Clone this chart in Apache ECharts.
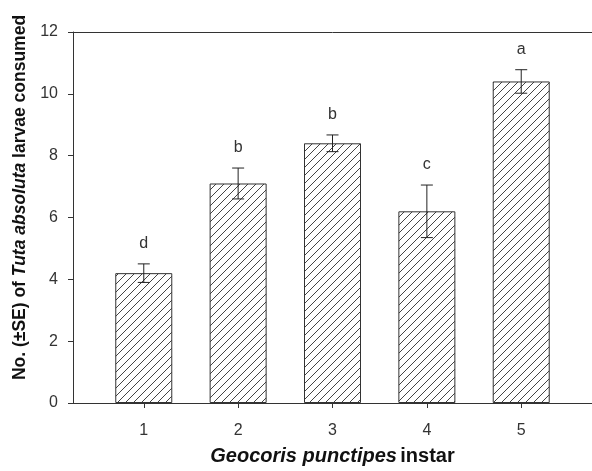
<!DOCTYPE html>
<html>
<head>
<meta charset="utf-8">
<script src="https://cdn.jsdelivr.net/npm/echarts@6/dist/echarts.min.js"></script>
<style>
  html, body { margin: 0; padding: 0; background: #fff; }
  #chart { width: 592px; height: 471px; }
</style>
</head>
<body>
<div id="chart"></div>
<script>
const instars = [1, 2, 3, 4, 5];
const consumed = [4.2, 7.1, 8.4, 6.2, 10.4];
const stdErr = [0.3, 0.5, 0.27, 0.85, 0.38];
const letters = ['d', 'b', 'b', 'c', 'a'];
const yTicks = [0, 2, 4, 6, 8, 10, 12];

// diagonal hatch tile
const makeHatch = () => {
    const c = document.createElement('canvas');
    const s = 8;
    c.width = s;
    c.height = s;
    const ctx = c.getContext('2d');
    ctx.fillStyle = '#fff';
    ctx.fillRect(0, 0, s, s);
    ctx.strokeStyle = '#444';
    ctx.lineWidth = 1;
    ctx.beginPath();
    ctx.moveTo(-1, s + 1); ctx.lineTo(s + 1, -1);
    ctx.moveTo(-1, 1); ctx.lineTo(1, -1);
    ctx.moveTo(s - 1, s + 1); ctx.lineTo(s + 1, s - 1);
    ctx.stroke();
    return c;
};

const chart = echarts.init(document.getElementById('chart'));
const axisColor = '#333';
const font = 'Liberation Sans, Arial, sans-serif';

const option = {
    backgroundColor: '#fff',
    animation: false,
    grid: { left: 73, right: 0, top: 32, bottom: 67 },
    xAxis: [
        {
            type: 'value',
            min: 0.25,
            max: 5.75,
            splitLine: { show: false },
            axisLine: { lineStyle: { color: axisColor, width: 1 } },
            axisTick: { show: true, length: 5, customValues: instars, lineStyle: { color: axisColor } },
            axisLabel: { customValues: instars, color: '#333', fontSize: 16, fontFamily: font, margin: 20 },
            name: '{i|Geocoris punctipes} {b|instar}',
            nameLocation: 'middle',
            nameGap: 43,
            nameTextStyle: {
                rich: {
                    i: { fontSize: 20, fontWeight: 'bold', fontStyle: 'italic', fontFamily: font, color: '#111' },
                    b: { fontSize: 20, fontWeight: 'bold', fontFamily: font, color: '#111' }
                }
            }
        },
        {
            type: 'value',
            position: 'top',
            min: 0.25,
            max: 5.75,
            axisLine: { show: true, onZero: false, lineStyle: { color: axisColor, width: 1 } },
            axisTick: { show: false },
            axisLabel: { show: false },
            splitLine: { show: false }
        }
    ],
    yAxis: {
        type: 'value',
        min: yTicks[0],
        max: yTicks[yTicks.length - 1],
        interval: 2,
        splitLine: { show: false },
        axisLine: { show: true, lineStyle: { color: axisColor, width: 1 } },
        axisTick: { show: true, length: 5, lineStyle: { color: axisColor } },
        axisLabel: { color: '#333', fontSize: 16, fontFamily: font, margin: 15 },
        name: '{b|No. (±SE) of }{i|Tuta absoluta}{b| larvae consumed}',
        nameLocation: 'middle',
        nameGap: 41,
        nameRotate: 90,
        nameTextStyle: {
            padding: [0, 0, 0, 40],
            rich: {
                i: { fontSize: 17.5, fontWeight: 'bold', fontStyle: 'italic', fontFamily: font, color: '#111' },
                b: { fontSize: 17.5, fontWeight: 'bold', fontFamily: font, color: '#111' }
            }
        }
    },
    series: [
        {
            type: 'bar',
            barWidth: 57,
            data: instars.map((x, i) => [x, consumed[i]]),
            itemStyle: {
                color: { image: makeHatch(), repeat: 'repeat' },
                borderColor: '#333',
                borderWidth: 1
            }
        },
        {
            type: 'custom',
            data: instars.map((x, i) => [x, consumed[i], stdErr[i], i]),
            z: 10,
            renderItem: (params, api) => {
                const x = api.value(0);
                const m = api.value(1);
                const se = api.value(2);
                const idx = api.value(3);
                const hi = api.coord([x, m + se]);
                const lo = api.coord([x, m - se]);
                const w = 6;
                const style = { stroke: '#222', lineWidth: 1 };
                return {
                    type: 'group',
                    children: [
                        { type: 'line', shape: { x1: hi[0], y1: hi[1], x2: lo[0], y2: lo[1] }, style },
                        { type: 'line', shape: { x1: hi[0] - w, y1: hi[1], x2: hi[0] + w, y2: hi[1] }, style },
                        { type: 'line', shape: { x1: lo[0] - w, y1: lo[1], x2: lo[0] + w, y2: lo[1] }, style },
                        {
                            type: 'text',
                            x: hi[0],
                            y: hi[1] - 20,
                            style: {
                                text: letters[idx],
                                fill: '#333',
                                fontSize: 16,
                                fontFamily: font,
                                align: 'center',
                                verticalAlign: 'middle'
                            }
                        }
                    ]
                };
            }
        }
    ]
};

chart.setOption(option);
</script>
</body>
</html>
